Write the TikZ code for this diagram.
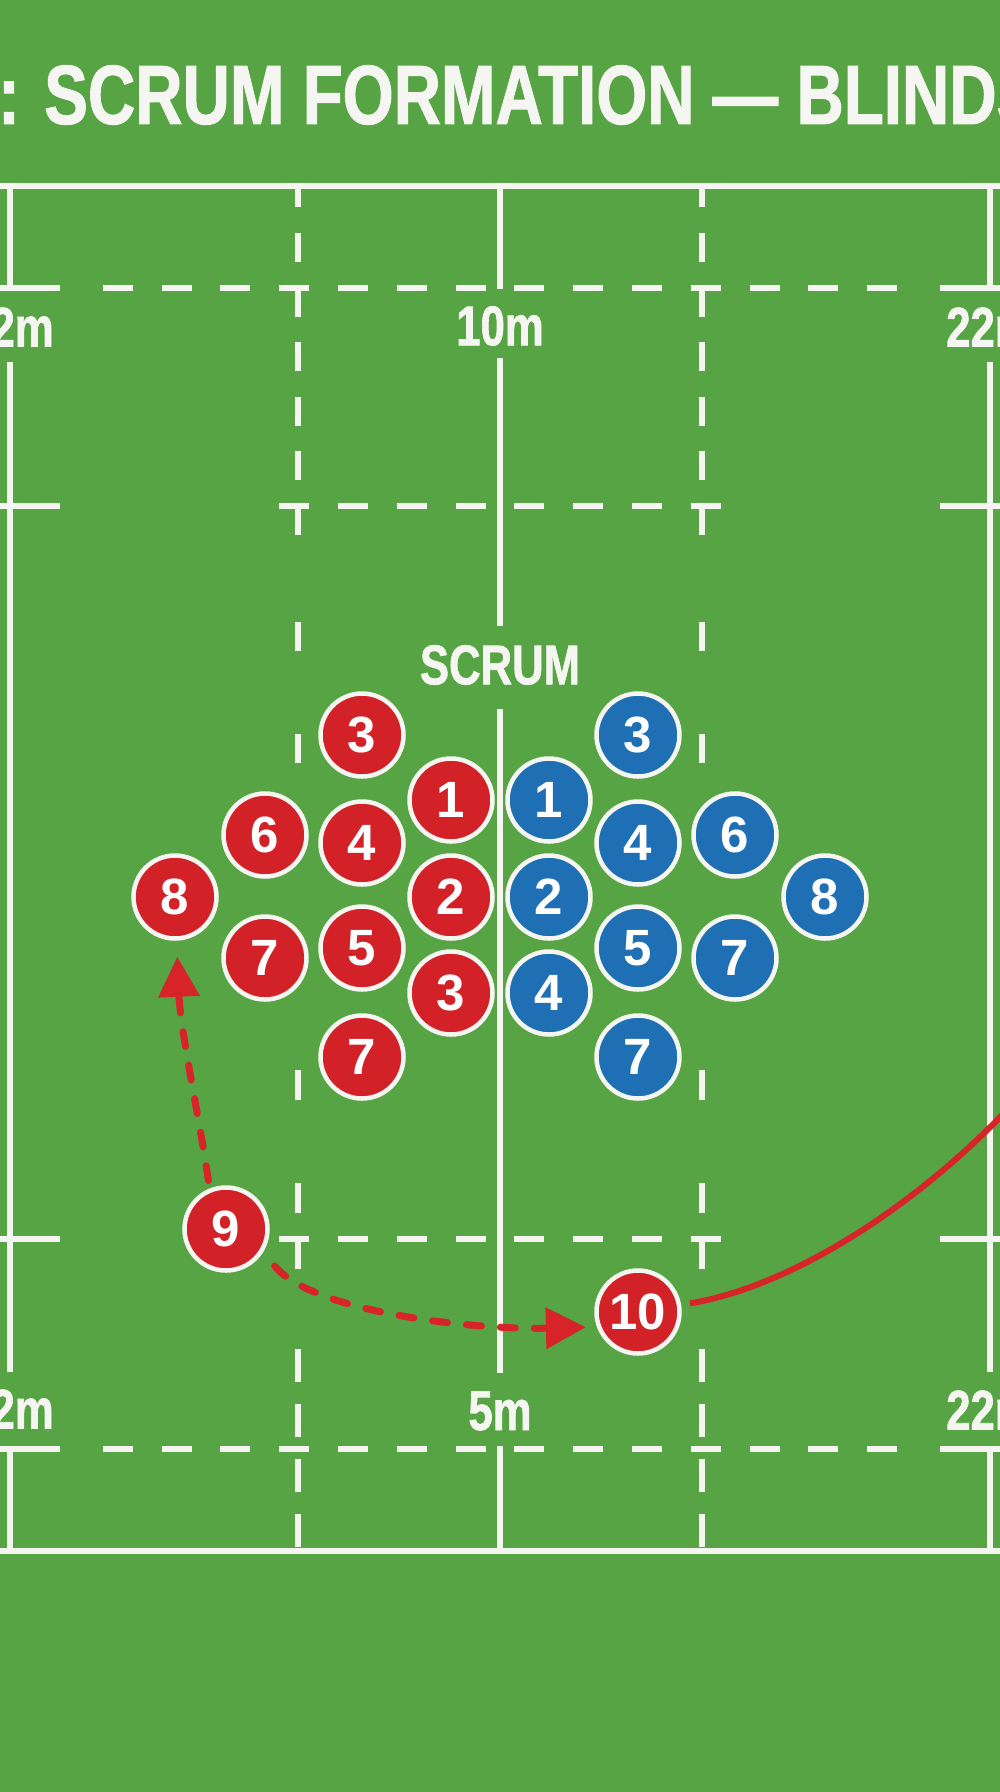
\documentclass[tikz,border=0pt]{standalone}
\usepackage{fontspec}
\usetikzlibrary{arrows.meta,shadows}
\newfontfamily\condfont{Liberation Sans}[UprightFont={* Bold},FakeStretch=0.78,FakeBold=1.2]
\newfontfamily\numfont{Liberation Sans}[UprightFont={* Bold}]
\definecolor{pitchgreen}{RGB}{87,164,69}
\definecolor{linewhite}{RGB}{245,246,241}
\definecolor{teamred}{RGB}{211,33,40}
\definecolor{teamblue}{RGB}{31,111,181}
\definecolor{runred}{RGB}{214,36,40}
\tikzset{
  pitch line/.style={draw=linewhite, line width=6.5pt},
  field label/.style={text=linewhite, inner sep=0pt, font=\condfont\fontsize{56}{56}\selectfont},
  title text/.style={text=linewhite, inner sep=0pt, font=\condfont\fontsize{84}{84}\selectfont},
  player/.style={circle, draw=linewhite, line width=4.5pt, minimum size=83pt, inner sep=0pt,
    text=white, font=\numfont\fontsize{51}{51}\selectfont,
    drop shadow={opacity=0.22, shadow xshift=0pt, shadow yshift=-2.5pt}},
  red player/.style={player, fill=teamred},
  blue player/.style={player, fill=teamblue},
  pass arrow/.style={draw=runred, line width=7pt, line cap=round, dash pattern=on 15pt off 19pt,
    -{Triangle[length=40pt,width=40pt]}},
  run line/.style={draw=runred, line width=6pt},
}
\begin{document}
\begin{tikzpicture}[x=1pt,y=1pt,yscale=-1,xscale=1]
    \useasboundingbox (0,0) rectangle (1000,1792);
    \clip (0,0) rectangle (1000,1792);
    %Shape: Rectangle (pitch)
    \fill [pitchgreen] (0,0) rectangle (1000,1792);

    %Shape: Lines (dead ball lines)
    \draw [pitch line] (0,186) -- (1000,186) (0,1551) -- (1000,1551);
    %Shape: Lines (touch lines, broken by labels)
    \draw [pitch line] (10,186) -- (10,288) (10,362) -- (10,1372) (10,1452) -- (10,1551);
    \draw [pitch line] (990,186) -- (990,288) (990,362) -- (990,1372) (990,1452) -- (990,1551);
    %Shape: Line (halfway)
    \draw [pitch line] (500,186) -- (500,289) (500,358) -- (500,626) (500,709) -- (500,1373) (500,1446) -- (500,1551);
    %Shape: Lines (ticks over touch lines)
    \draw [pitch line] (0,288) -- (60,288) (940,288) -- (1000,288) (0,506) -- (60,506) (940,506) -- (1000,506)
        (0,1239) -- (60,1239) (940,1239) -- (1000,1239) (0,1449) -- (60,1449) (940,1449) -- (1000,1449);
    %Shape: Dashed lines (across)
    \draw [pitch line, dash pattern=on 30pt off 28.8pt] (102.7,288) -- (897.3,288) (102.7,1449) -- (897.3,1449)
        (279.1,506) -- (720.7,506) (279.1,1239) -- (720.7,1239);
    %Shape: Dashed lines (along)
    \draw [pitch line] (298,186) -- (298,207) (702,186) -- (702,207);
    \draw [pitch line, dash pattern=on 29pt off 25.6pt] (298,233) -- (298,537) (702,233) -- (702,537);
    \draw [pitch line, dash pattern=on 29pt off 83pt] (298,622) -- (298,763) (702,622) -- (702,763);
    \draw [pitch line, dash pattern=on 30pt off 83pt on 30pt off 26pt] (298,1070) -- (298,1269) (702,1070) -- (702,1269);
    \draw [pitch line, dash pattern=on 33pt off 22pt] (298,1349) -- (298,1551) (702,1349) -- (702,1551);

    % Text Node
    \node [title text, anchor=west] (title) at (-2,95) {: SCRUM FORMATION — BLINDS};
    % Text Node
    \node [field label] (lbltl) at (10,327) {22m};
    \node [field label] (lbltc) at (500,326) {10m};
    \node [field label] (lbltr) at (990,327) {22m};
    \node [field label] (lblbl) at (10,1409) {22m};
    \node [field label] (lblbc) at (500,1411) {5m};
    \node [field label] (lblbr) at (990,1410) {22m};
    \node [field label] (scrum) at (500,665) {SCRUM};

    %Shape: Circles (red pack)
    \node [red player] (r3a) at (362,735) {3};
    \node [red player] (r1) at (451,800) {1};
    \node [red player] (r6) at (265,835) {6};
    \node [red player] (r4) at (362,843) {4};
    \node [red player] (r8) at (175,897) {8};
    \node [red player] (r2) at (451,897) {2};
    \node [red player] (r7a) at (265,958) {7};
    \node [red player] (r5) at (362,948) {5};
    \node [red player] (r3b) at (451,993) {3};
    \node [red player] (r7b) at (362,1057) {7};
    \node [red player] (r9) at (226,1229) {9};
    \node [red player] (r10) at (638,1312) {10};
    %Shape: Circles (blue pack)
    \node [blue player] (b3) at (638,735) {3};
    \node [blue player] (b1) at (549,800) {1};
    \node [blue player] (b4a) at (638,843) {4};
    \node [blue player] (b6) at (735,835) {6};
    \node [blue player] (b8) at (825,897) {8};
    \node [blue player] (b2) at (549,897) {2};
    \node [blue player] (b5) at (638,948) {5};
    \node [blue player] (b7a) at (735,958) {7};
    \node [blue player] (b4b) at (549,993) {4};
    \node [blue player] (b7b) at (638,1057) {7};

    % Passes and run
    \coordinate (runend) at (1018,1098);
    \draw [pass arrow, shorten <=8pt, shorten >=16pt] (r9.112) .. controls +(-12,-80) and +(4,90) .. (r8.272);
    \draw [pass arrow, shorten <=18pt, shorten >=11pt] (r9.328) .. controls +(50,60) and +(-125,3) .. (r10.200);
    \draw [run line, shorten <=9pt] (r10) .. controls (800,1285) and (930,1195) .. (runend);

\end{tikzpicture}
\end{document}
